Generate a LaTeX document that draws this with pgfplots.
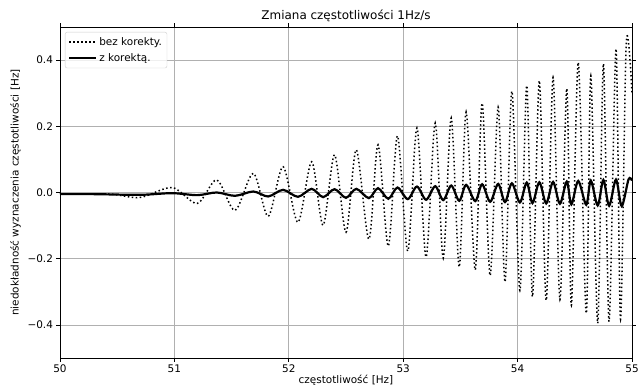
\documentclass[border=0pt]{standalone}
\usepackage{pgfplots}
\pgfplotsset{compat=1.18}
\usepackage{fontspec}
\setmainfont{DejaVu Sans}
\definecolor{gridgray}{HTML}{B0B0B0}
\definecolor{leggray}{HTML}{CCCCCC}
\begin{document}
\fontsize{10}{12}\selectfont
\begin{tikzpicture}
\useasboundingbox (-60bp,-34bp) rectangle (583bp,358bp);
\begin{axis}[
  at={(0,0)}, anchor=south west,
  scale only axis, width=572bp, height=331bp,
  xmin=50, xmax=55, ymin=-0.5, ymax=0.5,
  xtick={50,51,52,53,54,55}, xticklabels={50,51,52,53,54,55},
  ytick={-0.4,-0.2,0,0.2,0.4}, yticklabels={−0.4,−0.2,0.0,0.2,0.4},
  tick align=outside, major tick length=3.5bp,
  tick style={black, line width=0.8bp},
  axis line style={line width=0.8bp},
  grid=major, major grid style={gridgray, line width=0.8bp},
  title={Zmiana częstotliwości 1Hz/s},
  title style={font=\fontsize{12}{14}\selectfont, yshift=-4bp},
  xlabel={częstotliwość [Hz]}, ylabel={niedokładność wyznaczenia częstotliwości [Hz]},
  xlabel style={yshift=5bp}, ylabel style={yshift=0bp},
  ticklabel style={font=\fontsize{10.5}{12}\selectfont},
  label style={font=\fontsize{10.5}{12}\selectfont},
  legend style={at={(0,1)}, anchor=north west, xshift=5bp, yshift=-5bp,
    draw=leggray, rounded corners=2bp, fill=white, fill opacity=0.8, text opacity=1,
    font=\fontsize{10.5}{12}\selectfont, row sep=3bp, inner sep=3bp},
  legend cell align=left,
  legend image code/.code={\draw[#1] (0cm,0cm) -- (0.95cm,0cm);},
]
\addplot[black, line width=1.5bp, dash pattern=on 1.5bp off 2.5bp, smooth, tension=0.5] coordinates {
(50,-0.004) (50.2,-0.004) (50.45,-0.005) (50.7,-0.015) (50.98,0.015) (51.20,-0.033) (51.37,0.038) (51.53,-0.054) (51.69,0.058) (51.82,-0.072) (51.95,0.078) (52.08,-0.09) (52.20,0.093) (52.30,-0.099) (52.40,0.114) (52.50,-0.12) (52.59,0.129) (52.70,-0.141) (52.78,0.144) (52.87,-0.162) (52.95,0.171) (53.04,-0.177) (53.12,0.195) (53.20,-0.195) (53.28,0.21) (53.35,-0.198) (53.42,0.225) (53.49,-0.225) (53.55,0.243) (53.63,-0.234) (53.69,0.27) (53.76,-0.251) (53.83,0.258) (53.89,-0.27) (53.95,0.306) (54.02,-0.296) (54.08,0.323) (54.13,-0.315) (54.19,0.338) (54.25,-0.326) (54.31,0.348) (54.37,-0.324) (54.43,0.314) (54.47,-0.341) (54.53,0.393) (54.60,-0.365) (54.64,0.353) (54.70,-0.395) (54.75,0.389) (54.80,-0.39) (54.86,0.434) (54.90,-0.383) (54.95,0.452) (55.0,0.30)
};
\addlegendentry{bez korekty.}
\addplot[black, line width=2.2bp, smooth, tension=0.5] coordinates {
(50,-0.005) (50.3,-0.005) (50.7,-0.007) (50.98,-0.002) (51.20,-0.008) (51.37,0.000) (51.53,-0.010) (51.69,0.003) (51.82,-0.012) (51.95,0.008) (52.08,-0.013) (52.20,0.011) (52.30,-0.014) (52.40,0.010) (52.50,-0.016) (52.59,0.011) (52.70,-0.017) (52.78,0.013) (52.87,-0.019) (52.95,0.015) (53.04,-0.020) (53.12,0.018) (53.20,-0.022) (53.28,0.019) (53.35,-0.023) (53.42,0.021) (53.49,-0.025) (53.55,0.023) (53.63,-0.026) (53.69,0.025) (53.76,-0.028) (53.83,0.026) (53.89,-0.029) (53.95,0.028) (54.02,-0.030) (54.08,0.030) (54.13,-0.032) (54.19,0.031) (54.25,-0.033) (54.31,0.032) (54.37,-0.034) (54.43,0.033) (54.47,-0.036) (54.53,0.035) (54.60,-0.037) (54.64,0.036) (54.70,-0.039) (54.75,0.038) (54.80,-0.040) (54.86,0.039) (54.91,-0.041) (54.97,0.040) (55.0,0.036)
};
\addlegendentry{z korektą.}
\end{axis}
\end{tikzpicture}
\end{document}
